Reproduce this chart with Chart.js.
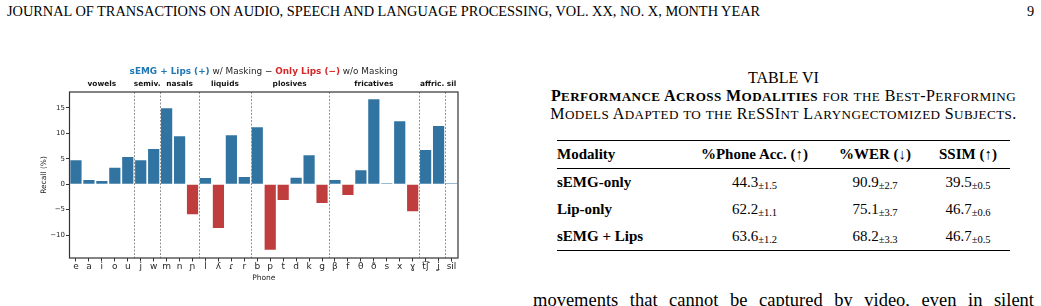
<!DOCTYPE html>
<html>
<head>
<meta charset="utf-8">
<script src="https://cdn.jsdelivr.net/npm/chart.js@4.4.1/dist/chart.umd.min.js"></script>
<style>
html, body { margin: 0; padding: 0; background: #fff; }
body { width: 1041px; height: 306px; overflow: hidden; position: relative;
       font-family: "Liberation Serif", "Times New Roman", serif; color: #000; }
.abs { position: absolute; white-space: nowrap; }
#runhead { left: 7px; top: 3px; font-size: 14.35px; }
#pageno { left: 1027px; top: 3px; font-size: 14.35px; }
#chartbox { position: absolute; left: 0; top: 0; width: 480px; height: 300px; }
.capt { left: 533px; width: 501px; text-align: center; font-size: 16px; }
#capt1 { top: 69px; }
#capt2 { top: 87px; letter-spacing: 0.4px; }
#capt3 { top: 105px; letter-spacing: 0.4px; }
.sc { font-size: 0.82em; text-transform: uppercase; }
#perf { position: absolute; left: 557px; top: 140px; width: 453px; border-collapse: collapse;
        font-size: 15px; table-layout: fixed; }
#perf th, #perf td { padding: 0; height: 27px; text-align: center; vertical-align: middle; white-space: nowrap; }
#perf th { font-weight: bold; }
#perf .first { text-align: left; font-weight: bold; }
#perf thead tr { border-top: 1.6px solid #000; border-bottom: 0.8px solid #000; }
#perf tbody tr:last-child { border-bottom: 1.6px solid #000; }
#perf small { font-size: 10.5px; position: relative; top: 2px; }
#perf .c4 { padding-right: 12px; }
#body { left: 533px; width: 501px; top: 290px; font-size: 18.5px; text-align: justify; text-align-last: justify; }
</style>
</head>
<body>
<div class="abs" id="runhead">JOURNAL OF TRANSACTIONS ON AUDIO, SPEECH AND LANGUAGE PROCESSING, VOL. XX, NO. X, MONTH YEAR</div>
<div class="abs" id="pageno">9</div>

<div id="chartbox"><canvas id="recallChart" width="480" height="300"></canvas></div>

<div class="abs capt" id="capt1">TABLE VI</div>
<div class="abs capt" id="capt2"><b data-sc>Performance Across Modalities</b> <span data-sc>for the Best-Performing</span></div>
<div class="abs capt" id="capt3"><span data-sc>Models Adapted to the ReSSInt Laryngectomized Subjects.</span></div>

<table id="perf">
  <colgroup><col style="width:140px"><col style="width:115px"><col style="width:126px"><col style="width:72px"></colgroup>
  <thead>
    <tr><th class="first">Modality</th><th>%Phone Acc. (&uarr;)</th><th>%WER (&darr;)</th><th class="c4">SSIM (&uarr;)</th></tr>
  </thead>
  <tbody>
    <tr><td class="first">sEMG-only</td><td>44.3<small>&plusmn;1.5</small></td><td>90.9<small>&plusmn;2.7</small></td><td class="c4">39.5<small>&plusmn;0.5</small></td></tr>
    <tr><td class="first">Lip-only</td><td>62.2<small>&plusmn;1.1</small></td><td>75.1<small>&plusmn;3.7</small></td><td class="c4">46.7<small>&plusmn;0.6</small></td></tr>
    <tr><td class="first">sEMG + Lips</td><td>63.6<small>&plusmn;1.2</small></td><td>68.2<small>&plusmn;3.3</small></td><td class="c4">46.7<small>&plusmn;0.5</small></td></tr>
  </tbody>
</table>

<div class="abs" id="body">movements that cannot be captured by video, even in silent</div>

<script>
// small caps the LaTeX way: lowercase runs become smaller capitals
document.querySelectorAll('[data-sc]').forEach(el => {
  el.innerHTML = el.textContent.replace(/[a-z]+/g, m => '<span class="sc">' + m + '</span>');
});

// Data
const phones = ['e', 'a', 'i', 'o', 'u', 'j', 'w', 'm', 'n', '\u0272', 'l', '\u028e', '\u027e', 'r',
  'b', 'p', 't', 'd', 'k', 'g', '\u03b2', 'f', '\u03b8', '\u00f0', 's', 'x', '\u0263',
  't\u0361\u0283', '\u029d', 'sil'];
const recallDiff = [4.7, 0.8, 0.6, 3.2, 5.35, 4.7, 6.9, 14.9, 9.4, -5.9, 1.2, -8.6, 9.6, 1.4,
  11.2, -12.9, -3.1, 1.25, 5.7, -3.7, 0.8, -2.15, 2.75, 16.7, 0.2, 12.35, -5.3,
  6.7, 11.4, 0.2];
const groupNames = ['vowels', 'semiv.', 'nasals', 'liquids', 'plosives', 'fricatives', 'affric.', 'sil'];
const groupSizes = [5, 2, 3, 4, 6, 7, 2, 1];
const yTicks = [-10, -5, 0, 5, 10, 15];

const blueBar = '#3274a1';
const redBar = '#c03d3e';
const ink = '#262626';

Chart.defaults.font.family = '"DejaVu Sans", sans-serif';
Chart.defaults.color = ink;

// title, group labels, group separators and the box around the plot
const decorations = {
  id: 'decorations',
  afterDatasetsDraw(chart) {
    const { ctx, chartArea: a, scales: { x } } = chart;
    ctx.save();

    // dashed separators between phone groups
    ctx.strokeStyle = '#888';
    ctx.lineWidth = 0.9;
    ctx.setLineDash([2, 1.5]);
    let start = 0;
    groupSizes.forEach((n, g) => {
      const end = start + n;
      if (g < groupSizes.length - 1) {
        const px = Math.round((x.getPixelForValue(end - 1) + x.getPixelForValue(end)) / 2) + 0.5;
        ctx.beginPath();
        ctx.moveTo(px, a.top);
        ctx.lineTo(px, a.bottom);
        ctx.stroke();
      }
      start = end;
    });
    ctx.setLineDash([]);

    // box
    ctx.strokeStyle = '#333';
    ctx.lineWidth = 1.2;
    ctx.strokeRect(a.left, a.top, a.right - a.left, a.bottom - a.top);

    // group labels
    ctx.fillStyle = '#111';
    ctx.font = 'bold 7.4px "DejaVu Sans"';
    ctx.textAlign = 'center';
    ctx.textBaseline = 'middle';
    start = 0;
    groupSizes.forEach((n, g) => {
      const cx = (x.getPixelForValue(start) + x.getPixelForValue(start + n - 1)) / 2;
      ctx.fillText(groupNames[g], cx, 84.5);
      start += n;
    });

    // two-colour title
    const parts = [
      { t: 'sEMG + Lips (+)', c: '#1f77b4', b: true },
      { t: ' w/ Masking \u2212 ', c: ink, b: false },
      { t: 'Only Lips (\u2212)', c: '#d62728', b: true },
      { t: ' w/o Masking', c: ink, b: false }
    ];
    const fontOf = p => (p.b ? 'bold ' : '') + '8.9px "DejaVu Sans"';
    let total = 0;
    parts.forEach(p => { ctx.font = fontOf(p); total += ctx.measureText(p.t).width; });
    let tx = (a.left + a.right) / 2 - total / 2;
    ctx.textAlign = 'left';
    parts.forEach(p => {
      ctx.font = fontOf(p);
      ctx.fillStyle = p.c;
      ctx.fillText(p.t, tx, 71.5);
      tx += ctx.measureText(p.t).width;
    });
    ctx.restore();
  }
};

new Chart(document.getElementById('recallChart'), {
  type: 'bar',
  data: {
    labels: phones,
    datasets: [{
      data: recallDiff,
      backgroundColor: recallDiff.map(v => (v >= 0 ? blueBar : redBar)),
      borderWidth: 0,
      categoryPercentage: 1,
      barPercentage: 0.865
    }]
  },
  options: {
    responsive: false,
    animation: false,
    devicePixelRatio: 1,
    layout: { padding: { left: 36, top: 92, right: 22, bottom: 12 } },
    plugins: { legend: { display: false }, tooltip: { enabled: false } },
    scales: {
      x: {
        offset: true,
        grid: { offset: false, drawOnChartArea: false, tickLength: 3.5, color: '#333' },
        border: { display: false },
        ticks: { font: { size: 9 }, color: ink, padding: 0, maxRotation: 0, autoSkip: false },
        title: { display: true, text: 'Phone', font: { size: 7.5 }, color: ink, padding: { top: 0, bottom: 5.5 } },
        afterFit: s => { s.height = 30; }
      },
      y: {
        min: -14.5,
        max: 18.1,
        afterBuildTicks: s => { s.ticks = yTicks.map(v => ({ value: v })); },
        grid: { drawOnChartArea: false, tickLength: 3.5, color: '#333' },
        border: { display: false },
        ticks: {
          font: { size: 7 }, color: ink, padding: 1,
          callback: v => String(v).replace('-', '\u2212')
        },
        title: { display: true, text: 'Recall (%)', font: { size: 7.5 }, color: ink },
        afterFit: s => { s.width = 33.5; }
      }
    }
  },
  plugins: [decorations]
});
</script>
</body>
</html>
